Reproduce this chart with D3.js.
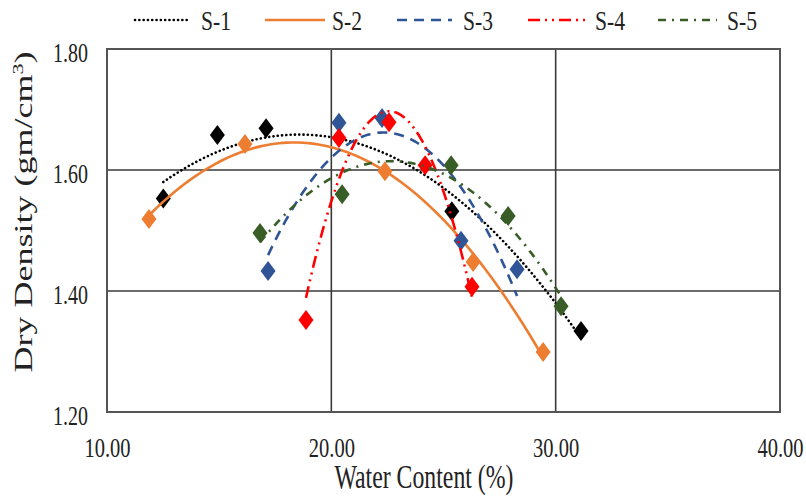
<!DOCTYPE html>
<html><head><meta charset="utf-8">
<script src="https://cdn.jsdelivr.net/npm/d3@7"></script>
<style>html,body{margin:0;padding:0;background:#fff;}svg{display:block;}</style>
</head><body>
<svg id="chart" width="806" height="499"></svg>
<script>
// ---- data ----
const seriesNames = ["S-1","S-2","S-3","S-4","S-5"];
const s1x = [12.51, 14.92, 17.09, 25.37, 31.13];
const s1y = [1.553, 1.658, 1.669, 1.532, 1.334];
const s2x = [11.87, 16.15, 22.39, 26.32, 29.44];
const s2y = [1.519, 1.643, 1.598, 1.448, 1.299];
const s3x = [17.18, 20.34, 22.26, 25.78, 28.28];
const s3y = [1.433, 1.678, 1.686, 1.483, 1.436];
const s4x = [18.87, 20.34, 22.57, 24.18, 26.27];
const s4y = [1.352, 1.653, 1.679, 1.608, 1.407];
const s5x = [16.82, 20.48, 25.34, 27.88, 30.24];
const s5y = [1.496, 1.560, 1.608, 1.524, 1.375];
const xTicks = [10, 20, 30, 40];
const yTicks = [1.20, 1.40, 1.60, 1.80];

const styles = [
  {color:"#000000", marker:"#000000", dash:"0.1 4.2", cap:"round", w:2.6},
  {color:"#ED7D31", marker:"#ED7D31", dash:null, cap:"butt", w:2.6},
  {color:"#2F5597", marker:"#2F5597", dash:"10 7", cap:"butt", w:2.6},
  {color:"#FF0000", marker:"#FF0000", dash:"12 5 2 5 2 5", cap:"butt", w:2.6},
  {color:"#385D27", marker:"#385D27", dash:"8 6 2 6", cap:"butt", w:2.6}
];
const allX = [s1x,s2x,s3x,s4x,s5x];
const allY = [s1y,s2y,s3y,s4y,s5y];

const svg = d3.select("#chart");
const pL=107, pR=780, pT=49, pB=412;
const x = d3.scaleLinear().domain([10,40]).range([pL,pR]);
const y = d3.scaleLinear().domain([1.2,1.8]).range([pB,pT]);

// gridlines
const grid = svg.append("g");
grid.selectAll("line.v").data(xTicks.slice(1,-1)).enter().append("line")
  .attr("x1",d=>x(d)).attr("x2",d=>x(d)).attr("y1",pT).attr("y2",pB)
  .attr("stroke","#3a3a3a").attr("stroke-width",1.6);
grid.selectAll("line.h").data(yTicks.slice(1,-1)).enter().append("line")
  .attr("x1",pL).attr("x2",pR).attr("y1",d=>y(d)).attr("y2",d=>y(d))
  .attr("stroke","#3a3a3a").attr("stroke-width",1.6);
svg.append("rect").attr("x",pL).attr("y",pT).attr("width",pR-pL).attr("height",pB-pT)
  .attr("fill","none").attr("stroke","#555").attr("stroke-width",2);

const fmt = d3.format(".2f");
function sText(parent, tx, ty, str, size, sx, anchor){
  return parent.append("g").attr("transform",`translate(${tx},${ty}) scale(${sx},1)`)
    .append("text").attr("text-anchor",anchor).attr("font-family","'Liberation Serif','Times New Roman',serif")
    .attr("font-size",size).attr("fill","#222").text(str);
}
const xAxis = svg.append("g").attr("transform",`translate(0,${pB})`)
  .call(d3.axisBottom(x).tickValues(xTicks).tickSize(0).tickFormat(""));
xAxis.select(".domain").remove();
xAxis.selectAll(".tick").each(function(d){
  sText(d3.select(this), 0, 45, fmt(d), 27, 0.76, "middle");
});
const yAxis = svg.append("g").attr("transform",`translate(${pL},0)`)
  .call(d3.axisLeft(y).tickValues(yTicks).tickSize(0).tickFormat(""));
yAxis.select(".domain").remove();
yAxis.selectAll(".tick").each(function(d){
  sText(d3.select(this), -19, 12, fmt(d), 27, 0.74, "end");
});

// titles
sText(svg, 424, 488, "Water Content (%)", 34, 0.7, "middle");
const yt = svg.append("g").attr("transform","translate(32,212) scale(0.7,1) rotate(-90)")
  .append("text").attr("text-anchor","middle").attr("font-family","'Liberation Serif','Times New Roman',serif")
  .attr("font-size",36).attr("fill","#222");
yt.append("tspan").text("Dry Density (gm/cm");
yt.append("tspan").attr("font-size",22).attr("dy",-13).text("3");
yt.append("tspan").attr("dy",13).text(")");

// quadratic least-squares trendline
function quadFit(xs, ys){
  let S=[0,0,0,0,0], T=[0,0,0];
  xs.forEach((xv,i)=>{ let p=1; for(let k=0;k<5;k++){S[k]+=p; if(k<3) T[k]+=p*ys[i]; p*=xv;} });
  const A=[[S[0],S[1],S[2],T[0]],[S[1],S[2],S[3],T[1]],[S[2],S[3],S[4],T[2]]];
  for(let i=0;i<3;i++){ for(let j=i+1;j<3;j++){ const f=A[j][i]/A[i][i]; for(let k=i;k<4;k++) A[j][k]-=f*A[i][k]; } }
  const c=[0,0,0];
  for(let i=2;i>=0;i--){ let s=A[i][3]; for(let k=i+1;k<3;k++) s-=A[i][k]*c[k]; c[i]=s/A[i][i]; }
  return v=>c[0]+c[1]*v+c[2]*v*v;
}
const line = d3.line().x(d=>x(d[0])).y(d=>y(d[1])).curve(d3.curveLinear);
const diamond = "M0,-10L7.5,0L0,10L-7.5,0Z";

seriesNames.forEach((name,i)=>{
  const xs=allX[i], ys=allY[i], st=styles[i];
  const f = quadFit(xs,ys);
  const lo=d3.min(xs), hi=d3.max(xs);
  const pts = d3.range(0,101).map(k=>{const v=lo+(hi-lo)*k/100; return [v,f(v)];});
  const g = svg.append("g");
  g.append("path").attr("d",line(pts)).attr("fill","none").attr("stroke",st.color)
    .attr("stroke-width",st.w).attr("stroke-dasharray",st.dash).attr("stroke-linecap",st.cap);
  g.selectAll("path.m").data(xs.map((v,j)=>[v,ys[j]])).enter().append("path")
    .attr("d",diamond).attr("transform",d=>`translate(${x(d[0])},${y(d[1])})`).attr("fill",st.marker);
});

// legend
const legX = [[135,190,201],[265,325,332],[397,452,463],[528,588,595],[658,717,727]];
const leg = svg.append("g");
seriesNames.forEach((name,i)=>{
  const st=styles[i], p=legX[i];
  leg.append("line").attr("x1",p[0]).attr("x2",p[1]).attr("y1",20).attr("y2",20)
    .attr("stroke",st.color).attr("stroke-width",st.w).attr("stroke-dasharray",st.dash).attr("stroke-linecap",st.cap);
  sText(leg, p[2], 30, name, 27, 0.8, "start");
});
</script>
</body></html>
